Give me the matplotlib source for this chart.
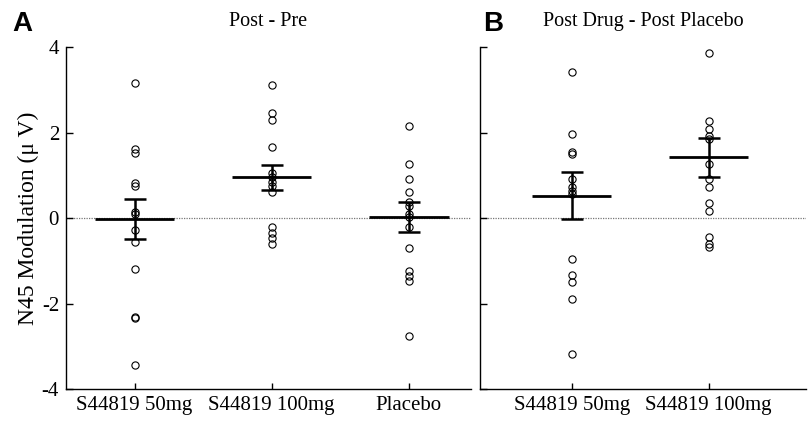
import matplotlib.pyplot as plt

plt.rcParams["font.family"] = "Liberation Serif"
plt.rcParams["axes.unicode_minus"] = False

# panel A: Post - Pre
a_labels = ["S44819 50mg", "S44819 100mg", "Placebo"]
a_50mg = [3.15, 1.62, 1.52, 0.82, 0.75, 0.15, 0.10, -0.28, -0.55, -1.20, -2.32, -2.35, -3.45]
a_100mg = [3.12, 2.46, 2.30, 1.65, 1.05, 0.95, 0.85, 0.74, 0.60, -0.20, -0.36, -0.47, -0.61]
a_placebo = [2.15, 1.27, 0.92, 0.62, 0.37, 0.29, 0.09, 0.02, -0.22, -0.69, -1.24, -1.35, -1.47, -2.76]
a_mean = [-0.02, 0.95, 0.02]
a_sem = [0.46, 0.285, 0.355]

# panel B: Post Drug - Post Placebo
b_labels = ["S44819 50mg", "S44819 100mg"]
b_50mg = [3.42, 1.97, 1.54, 1.50, 0.92, 0.72, 0.64, 0.56, -0.96, -1.34, -1.50, -1.90, -3.19]
b_100mg = [3.85, 2.28, 2.09, 1.92, 1.85, 1.27, 0.92, 0.72, 0.34, 0.16, -0.45, -0.61, -0.68]
b_mean = [0.52, 1.42]
b_sem = [0.545, 0.45]


def draw_panel(ax, groups, means, sems, labels, title):
    ax.axhline(0, color="#777777", lw=0.9, ls=(0, (1, 1)), zorder=1)
    for i, vals in enumerate(groups):
        ax.plot([i] * len(vals), vals, "o", mfc="none", mec="black",
                ms=5.2, mew=0.8, zorder=3)
        ax.plot([i - 0.29, i + 0.29], [means[i], means[i]], color="black",
                lw=2.0, solid_capstyle="butt", zorder=2)
        ax.errorbar(i, means[i], yerr=sems[i], fmt="none", ecolor="black",
                    elinewidth=1.8, capsize=8, capthick=1.8, zorder=2)
    ax.set_ylim(-4, 4)
    ax.set_yticks([-4, -2, 0, 2, 4])
    ax.set_xticks(range(len(labels)))
    ax.set_xticklabels(labels, fontsize=15)
    ax.tick_params(direction="in", length=5, width=1, labelsize=15, pad=5)
    ax.tick_params(axis="x", length=4)
    for s in ["top", "right"]:
        ax.spines[s].set_visible(False)
    for s in ["left", "bottom"]:
        ax.spines[s].set_linewidth(1.0)
    ax.set_title(title, fontsize=14.5, pad=15)


fig = plt.figure(figsize=(8.09, 4.22), dpi=100)

ax_a = fig.add_axes([0.0816, 0.0782, 0.5, 0.8104])
draw_panel(ax_a, [a_50mg, a_100mg, a_placebo], a_mean, a_sem, a_labels, "Post - Pre")
ax_a.set_xlim(-0.5, 2.45)
ax_a.set_ylabel("N45 Modulation (\u03bc V)", fontsize=17, labelpad=2)

ax_b = fig.add_axes([0.5933, 0.0782, 0.403, 0.8104])
draw_panel(ax_b, [b_50mg, b_100mg], b_mean, b_sem, b_labels, "Post Drug - Post Placebo")
ax_b.set_xlim(-0.67, 1.71)
ax_b.set_yticklabels([])

fig.text(0.015, 0.975, "A", fontsize=20, fontweight="bold", family="Liberation Sans", va="top")
fig.text(0.597, 0.975, "B", fontsize=20, fontweight="bold", family="Liberation Sans", va="top")

plt.savefig("out.png", dpi=100)
